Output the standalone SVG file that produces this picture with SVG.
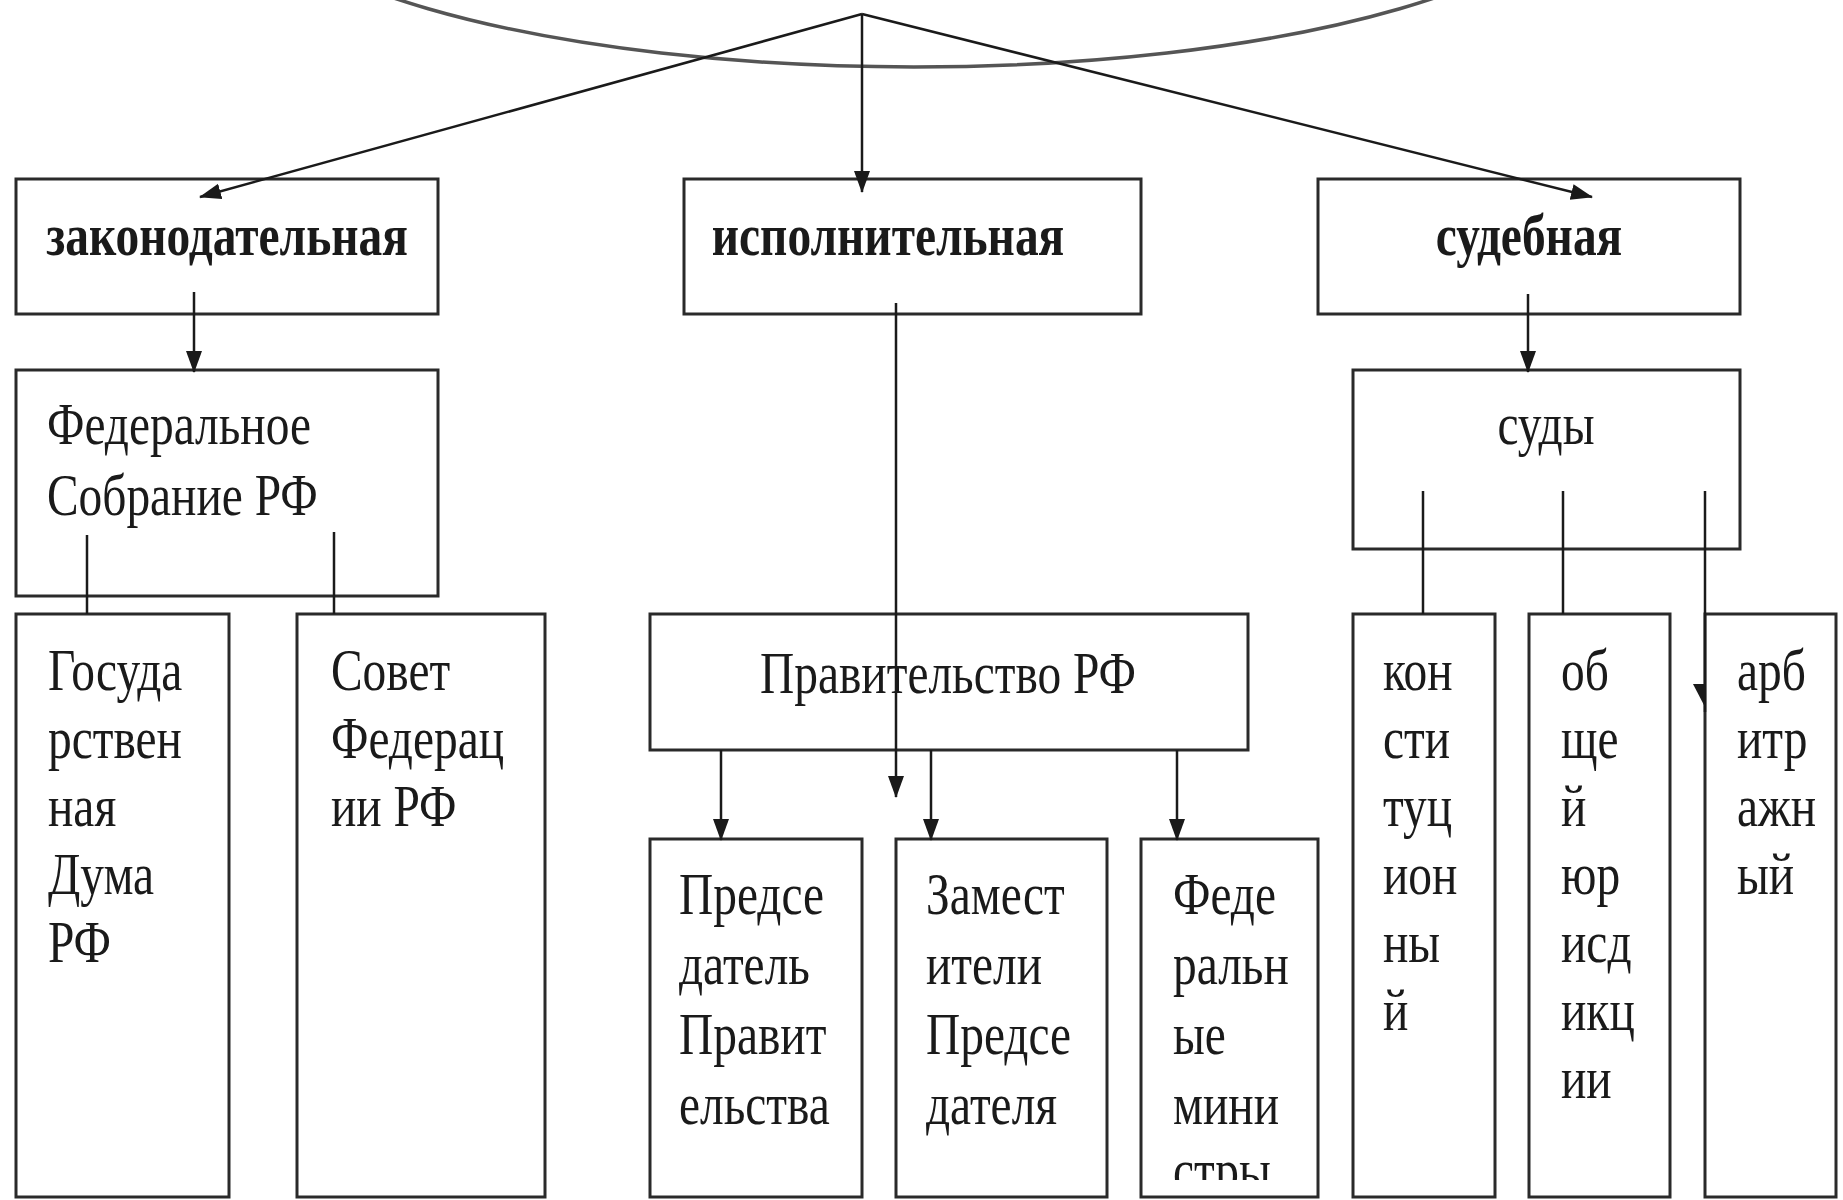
<svg xmlns="http://www.w3.org/2000/svg" width="1843" height="1200" viewBox="0 0 1843 1200">
<style>
.box{fill:#fff;stroke:#2a2a2a;stroke-width:3}
.t{font-family:"Liberation Serif","Times New Roman",serif;font-size:60px;fill:#1a1a1a}
.b{font-weight:bold}
.c{text-anchor:middle}
.ln{stroke:#1a1a1a;stroke-width:2.5;fill:none}
.ar{marker-end:url(#ah)}
</style>
<defs>
<marker id="ah" markerUnits="userSpaceOnUse" markerWidth="22" markerHeight="18" refX="21" refY="8" orient="auto">
<path d="M0,0 L22,8 L0,16 z" fill="#1a1a1a"/>
</marker>
<clipPath id="cutMin">
<rect x="1141" y="1100" width="177" height="80"/>
</clipPath>
</defs>
<rect width="1843" height="1200" fill="#fff"/>
<g id="top-node">
<ellipse cx="914" cy="-132" rx="687" ry="199" fill="none" stroke="#555" stroke-width="3.5"/>
</g>
<g id="n-legislative">
<rect class="box" x="16" y="179" width="422" height="135"/>
<text class="t b c" transform="translate(227,255) scale(0.79,1)">законодательная</text>
</g>
<g id="n-executive">
<rect class="box" x="684" y="179" width="457" height="135"/>
<text class="t b c" transform="translate(888,255) scale(0.79,1)">исполнительная</text>
</g>
<g id="n-judicial">
<rect class="box" x="1318" y="179" width="422" height="135"/>
<text class="t b c" transform="translate(1529,255) scale(0.79,1)">судебная</text>
</g>
<g id="n-fed-assembly">
<rect class="box" x="16" y="370" width="422" height="226"/>
<text class="t" transform="translate(47,444) scale(0.79,1)">Федеральное</text>
<text class="t" transform="translate(47,515) scale(0.79,1)">Собрание РФ</text>
</g>
<g id="n-duma">
<rect class="box" x="16" y="614" width="213" height="583"/>
<text class="t" transform="translate(48,690) scale(0.79,1)">Госуда</text>
<text class="t" transform="translate(48,758) scale(0.79,1)">рствен</text>
<text class="t" transform="translate(48,826) scale(0.79,1)">ная</text>
<text class="t" transform="translate(48,894) scale(0.79,1)">Дума</text>
<text class="t" transform="translate(48,962) scale(0.79,1)">РФ</text>
</g>
<g id="n-council">
<rect class="box" x="297" y="614" width="248" height="583"/>
<text class="t" transform="translate(331,690) scale(0.79,1)">Совет</text>
<text class="t" transform="translate(331,758) scale(0.79,1)">Федерац</text>
<text class="t" transform="translate(331,826) scale(0.79,1)">ии РФ</text>
</g>
<g id="n-government">
<rect class="box" x="650" y="614" width="598" height="136"/>
<text class="t c" transform="translate(948,693) scale(0.79,1)">Правительство РФ</text>
</g>
<g id="n-chairman">
<rect class="box" x="650" y="839" width="212" height="358"/>
<text class="t" transform="translate(679,914) scale(0.79,1)">Предсе</text>
<text class="t" transform="translate(679,984) scale(0.79,1)">датель</text>
<text class="t" transform="translate(679,1054) scale(0.79,1)">Правит</text>
<text class="t" transform="translate(679,1124) scale(0.79,1)">ельства</text>
</g>
<g id="n-deputies">
<rect class="box" x="896" y="839" width="211" height="358"/>
<text class="t" transform="translate(926,914) scale(0.79,1)">Замест</text>
<text class="t" transform="translate(926,984) scale(0.79,1)">ители</text>
<text class="t" transform="translate(926,1054) scale(0.79,1)">Предсе</text>
<text class="t" transform="translate(926,1124) scale(0.79,1)">дателя</text>
</g>
<g id="n-ministers">
<rect class="box" x="1141" y="839" width="177" height="358"/>
<text class="t" transform="translate(1173,914) scale(0.79,1)">Феде</text>
<text class="t" transform="translate(1173,984) scale(0.79,1)">ральн</text>
<text class="t" transform="translate(1173,1054) scale(0.79,1)">ые</text>
<text class="t" transform="translate(1173,1124) scale(0.79,1)">мини</text>
<g clip-path="url(#cutMin)"><text class="t" transform="translate(1173,1190) scale(0.79,1)">стры</text></g>
</g>
<g id="n-courts">
<rect class="box" x="1353" y="370" width="387" height="179"/>
<text class="t c" transform="translate(1546,444) scale(0.79,1)">суды</text>
</g>
<g id="n-constitutional">
<rect class="box" x="1353" y="614" width="142" height="583"/>
<text class="t" transform="translate(1383,690) scale(0.79,1)">кон</text>
<text class="t" transform="translate(1383,758) scale(0.79,1)">сти</text>
<text class="t" transform="translate(1383,826) scale(0.79,1)">туц</text>
<text class="t" transform="translate(1383,894) scale(0.79,1)">ион</text>
<text class="t" transform="translate(1383,962) scale(0.79,1)">ны</text>
<text class="t" transform="translate(1383,1030) scale(0.79,1)">й</text>
</g>
<g id="n-general">
<rect class="box" x="1529" y="614" width="141" height="583"/>
<text class="t" transform="translate(1561,690) scale(0.79,1)">об</text>
<text class="t" transform="translate(1561,758) scale(0.79,1)">ще</text>
<text class="t" transform="translate(1561,826) scale(0.79,1)">й</text>
<text class="t" transform="translate(1561,894) scale(0.79,1)">юр</text>
<text class="t" transform="translate(1561,962) scale(0.79,1)">исд</text>
<text class="t" transform="translate(1561,1030) scale(0.79,1)">икц</text>
<text class="t" transform="translate(1561,1098) scale(0.79,1)">ии</text>
</g>
<g id="n-arbitration">
<rect class="box" x="1705" y="614" width="131" height="583"/>
<text class="t" transform="translate(1737,690) scale(0.79,1)">арб</text>
<text class="t" transform="translate(1737,758) scale(0.79,1)">итр</text>
<text class="t" transform="translate(1737,826) scale(0.79,1)">ажн</text>
<text class="t" transform="translate(1737,894) scale(0.79,1)">ый</text>
</g>
<g id="connectors">
<line class="ln ar" x1="862" y1="14" x2="200" y2="197"/>
<line class="ln ar" x1="862" y1="14" x2="862" y2="192"/>
<line class="ln ar" x1="862" y1="14" x2="1592" y2="197"/>
<line class="ln ar" x1="194" y1="292" x2="194" y2="372"/>
<line class="ln" x1="87" y1="535" x2="87" y2="614"/>
<line class="ln" x1="334" y1="532" x2="334" y2="614"/>
<line class="ln ar" x1="896" y1="303" x2="896" y2="797"/>
<line class="ln ar" x1="721" y1="750" x2="721" y2="840"/>
<line class="ln ar" x1="931" y1="750" x2="931" y2="840"/>
<line class="ln ar" x1="1177" y1="750" x2="1177" y2="840"/>
<line class="ln ar" x1="1528" y1="294" x2="1528" y2="372"/>
<line class="ln" x1="1423" y1="491" x2="1423" y2="614"/>
<line class="ln" x1="1563" y1="491" x2="1563" y2="614"/>
<line class="ln" x1="1705" y1="491" x2="1705" y2="712"/>
<polygon points="1693,684 1706,684 1706,709" fill="#1a1a1a"/>
</g>
</svg>
